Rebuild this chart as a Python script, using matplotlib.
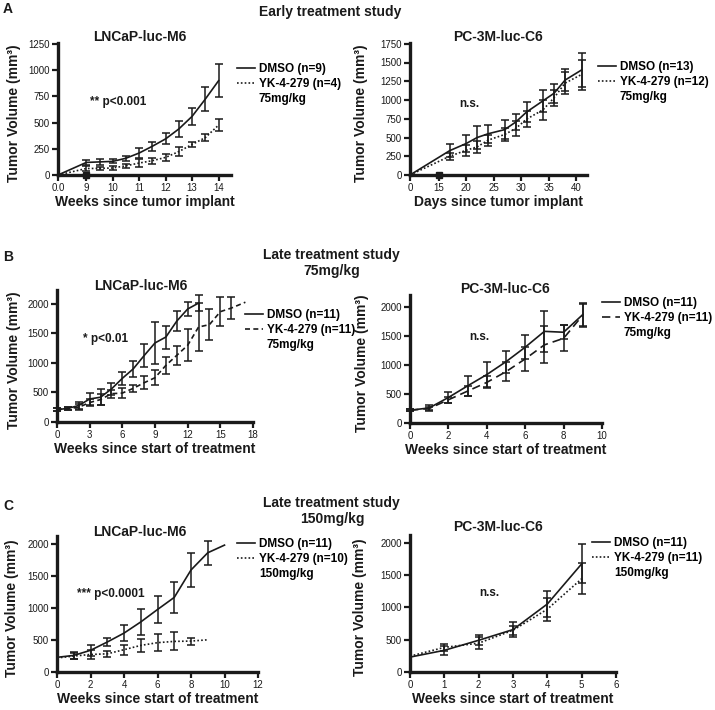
import numpy as np
import matplotlib
matplotlib.use("Agg")
import matplotlib.pyplot as plt
from matplotlib.lines import Line2D

plt.rcParams['font.family'] = ['Liberation Sans', 'DejaVu Sans']

nan = np.nan

# --- A: early treatment, LNCaP-luc-M6 (weeks since implant) ---
a1_weeks = [0, 9, 9.5, 10, 10.5, 11, 11.5, 12, 12.5, 13, 13.5, 14]
a1_dmso = [0, 120, 125, 130, 160, 210, 275, 345, 440, 560, 725, 900]
a1_dmso_err = [nan, 25, 28, 20, 22, 43, 44, 52, 80, 84, 115, 155]
a1_yk = [0, 62, 63, 67, 88, 114, 137, 168, 224, 292, 357, 476]
a1_yk_err = [nan, 20, 15, 19, 17, 35, 28, 32, 40, 25, 30, 57]

# --- A: early treatment, PC-3M-luc-C6 (days since implant) ---
a2_days = [0, 17, 20, 22, 24, 27, 29, 31, 34, 36, 38, 41]
a2_dmso = [0, 325, 420, 500, 550, 605, 705, 840, 990, 1090, 1265, 1400]
a2_dmso_err = [nan, 90, 115, 150, 120, 130, 105, 130, 150, 130, 145, 230]
a2_yk = [0, 250, 330, 375, 465, 540, 620, 745, 870, 1030, 1225, 1340]
a2_yk_err = [nan, 45, 70, 80, 75, 90, 100, 110, 135, 110, 145, 200]

# --- B: late treatment 75mg/kg ---
b1_dmso_weeks = list(range(0, 14))
b1_dmso = [210, 230, 280, 390, 420, 560, 740, 900, 1125, 1340, 1440, 1710, 1915, 2015]
b1_dmso_err = [20, 25, 60, 105, 140, 105, 105, 140, 190, 350, 195, 170, 125, 140]
b1_yk_weeks = list(range(0, 17)) + [17.3]
b1_yk = [210, 225, 250, 330, 380, 480, 490, 570, 665, 750, 960, 1130, 1300, 1610,
         1650, 1870, 1930, 2030]
b1_yk_err = [20, 25, 50, 60, 100, 70, 90, 60, 110, 130, 140, 160, 270, 400,
             260, 250, 190, nan]

b2_weeks = list(range(0, 10))
b2_dmso = [220, 260, 440, 640, 835, 1057, 1307, 1580, 1565, 1870]
b2_dmso_err = [20, 45, 90, 175, 210, 190, 205, 350, 120, 200]
b2_yk = [220, 250, 400, 550, 700, 885, 1105, 1347, 1460, 1860]
b2_yk_err = [20, 30, 50, 85, 105, 160, 210, 320, 225, 200]

# --- C: late treatment 150mg/kg ---
c1_dmso_weeks = list(range(0, 11))
c1_dmso = [230, 260, 340, 470, 610, 785, 980, 1170, 1600, 1870, 1990]
c1_dmso_err = [nan, 50, 85, 60, 125, 200, 210, 240, 260, 190, nan]
c1_yk_weeks = list(range(0, 10))
c1_yk = [220, 250, 275, 285, 350, 417, 460, 480, 485, 505]
c1_yk_err = [nan, 50, 75, 50, 80, 100, 135, 140, 55, nan]

c2_weeks = list(range(0, 6))
c2_dmso = [230, 335, 490, 655, 1050, 1670]
c2_dmso_err = [nan, 70, 80, 110, 200, 300]
c2_yk = [245, 380, 445, 645, 970, 1440]
c2_yk_err = [nan, 55, 90, 70, 180, 240]

W, H = 715, 710
fig = plt.figure(figsize=(W / 100, H / 100), dpi=100)
INK = '#1a1a1a'


def px_axes(left, right, top, bottom):
    return fig.add_axes([left / W, 1 - bottom / H, (right - left) / W, (bottom - top) / H])


def ftext(x, y, s, size=10, ha='left', va='center'):
    fig.text(x / W, 1 - y / H, s, fontsize=size, fontweight='bold', ha=ha, va=va, color=INK)


def style(ax, title, title_xy, xlabel, xlim, ylim, xticks, yticks, ylab_x, xticklabels=None):
    ax.set_xlim(*xlim)
    ax.set_ylim(*ylim)
    ax.set_xticks(xticks)
    if xticklabels is not None:
        ax.set_xticklabels(xticklabels)
    ax.set_yticks(yticks)
    for s in ['top', 'right']:
        ax.spines[s].set_visible(False)
    for s in ['left', 'bottom']:
        ax.spines[s].set_linewidth(2.4)
        ax.spines[s].set_color(INK)
    ax.tick_params(direction='out', length=4, width=1.6, labelsize=7, pad=2, colors=INK)
    ax.set_xlabel(xlabel, fontsize=10, fontweight='bold', color=INK)
    ax.set_ylabel('Tumor Volume (mm³)', fontsize=10, fontweight='bold', color=INK)
    bb = ax.get_position()
    ax.yaxis.set_label_coords(ylab_x, 0.47)
    ax.xaxis.set_label_coords(0.5, -20 / (bb.height * H))
    ftext(title_xy[0], title_xy[1], title, size=10, ha='center')


def series(ax, x, y, err, ls):
    ax.plot(x, y, color=INK, lw=1.2, linestyle=ls, clip_on=False, zorder=3)
    ax.errorbar(x, y, yerr=err, fmt='none', ecolor=INK, elinewidth=1.1,
                capsize=3, capthick=1.1, clip_on=False, zorder=3)


def legend(ax, x, y, n1, n2, dose, ls):
    h1 = Line2D([], [], color=INK, lw=1.2, linestyle='-')
    h2 = Line2D([], [], color=INK, lw=1.2, linestyle=ls)
    h3 = Line2D([], [], linestyle='none')
    ax.legend([h1, h2, h3], ['DMSO (n=%d)' % n1, 'YK-4-279 (n=%d)' % n2, dose],
              loc='upper left', bbox_to_anchor=(x / W, 1 - y / H),
              bbox_transform=fig.transFigure, frameon=False, borderpad=0,
              borderaxespad=0, handlelength=1.5, handletextpad=0.35,
              labelspacing=0.25, prop={'size': 8.5, 'weight': 'bold'})


def broken(x0_gap, start):
    # compress the interval [0, start) into a short stub, as in the original axis
    def fwd(x):
        x = np.asarray(x, dtype=float)
        return np.where(x < start, start - (start - x) * x0_gap / start, x)

    def inv(y):
        y = np.asarray(y, dtype=float)
        return np.where(y < start, start - (start - y) * start / x0_gap, y)
    return fwd, inv


DOT = (0, (1, 1.3))
SHORT = (0, (3, 2))
LONG = (0, (5, 3))

# ---------------- A ----------------
ftext(8, 9, 'A', size=10, ha='center')
ftext(330, 12, 'Early treatment study', size=10, ha='center')

ax = px_axes(58, 231, 43, 175)
ax.set_xscale('function', functions=broken(1.07, 9))
series(ax, a1_weeks, a1_dmso, a1_dmso_err, '-')
series(ax, a1_weeks, a1_yk, a1_yk_err, DOT)
ax.plot([9], [0], marker='s', ms=4.5, color=INK, clip_on=False, zorder=5)
style(ax, 'LNCaP-luc-M6', (140, 37), 'Weeks since tumor implant', (0, 14.47), (0, 1260),
      [0, 9, 10, 11, 12, 13, 14], [0, 250, 500, 750, 1000, 1250], -0.214,
      ['0.0', '9', '10', '11', '12', '13', '14'])
legend(ax, 237, 63, 9, 4, '75mg/kg', DOT)
ftext(90, 102, '** p<0.001', size=8.5)

ax = px_axes(410, 587, 43, 175)
ax.set_xscale('function', functions=broken(5.24, 15))
series(ax, a2_days, a2_dmso, a2_dmso_err, '-')
series(ax, a2_days, a2_yk, a2_yk_err, DOT)
ax.plot([15], [0], marker='s', ms=4.5, color=INK, clip_on=False, zorder=5)
style(ax, 'PC-3M-luc-C6', (498, 37), 'Days since tumor implant', (0, 42), (0, 1760),
      [0, 15, 20, 25, 30, 35, 40], [0, 250, 500, 750, 1000, 1250, 1500, 1750], -0.237)
legend(ax, 598, 61, 13, 12, '75mg/kg', DOT)
ftext(459, 104, 'n.s.', size=8.5)

# ---------------- B ----------------
ftext(8, 257, 'B', size=10, ha='center')
ftext(331, 255, 'Late treatment study', size=10, ha='center')
ftext(332, 271, '75mg/kg', size=10, ha='center')

ax = px_axes(57, 253, 290, 422)
series(ax, b1_dmso_weeks, b1_dmso, b1_dmso_err, '-')
series(ax, b1_yk_weeks, b1_yk, b1_yk_err, SHORT)
style(ax, 'LNCaP-luc-M6', (141, 286), 'Weeks since start of treatment', (0, 18), (0, 2237),
      [0, 3, 6, 9, 12, 15, 18], [0, 500, 1000, 1500, 2000], -0.184)
legend(ax, 245, 309, 11, 11, '75mg/kg', SHORT)
ftext(83, 339, '* p<0.01', size=8.5)

ax = px_axes(410, 602, 295, 423)
series(ax, b2_weeks, b2_dmso, b2_dmso_err, '-')
series(ax, b2_weeks, b2_yk, b2_yk_err, LONG)
style(ax, 'PC-3M-luc-C6', (505, 289), 'Weeks since start of treatment', (0, 10), (0, 2207),
      [0, 2, 4, 6, 8, 10], [0, 500, 1000, 1500, 2000], -0.213)
legend(ax, 602, 297, 11, 11, '75mg/kg', LONG)
ftext(469, 337, 'n.s.', size=8.5)

# ---------------- C ----------------
ftext(8, 506, 'C', size=10, ha='center')
ftext(331, 503, 'Late treatment study', size=10, ha='center')
ftext(332, 519, '150mg/kg', size=10, ha='center')

ax = px_axes(57, 258, 536, 672)
series(ax, c1_dmso_weeks, c1_dmso, c1_dmso_err, '-')
series(ax, c1_yk_weeks, c1_yk, c1_yk_err, DOT)
style(ax, 'LNCaP-luc-M6', (140, 532), 'Weeks since start of treatment', (0, 12), (0, 2133),
      [0, 2, 4, 6, 8, 10, 12], [0, 500, 1000, 1500, 2000], -0.19)
legend(ax, 237, 538, 11, 10, '150mg/kg', DOT)
ftext(77, 594, '*** p<0.0001', size=8.5)

ax = px_axes(410, 616, 535, 672)
series(ax, c2_weeks, c2_dmso, c2_dmso_err, '-')
series(ax, c2_weeks, c2_yk, c2_yk_err, DOT)
style(ax, 'PC-3M-luc-C6', (498, 527), 'Weeks since start of treatment', (0, 6), (0, 2116),
      [0, 1, 2, 3, 4, 5, 6], [0, 500, 1000, 1500, 2000], -0.209)
legend(ax, 592, 537, 11, 11, '150mg/kg', DOT)
ftext(479, 593, 'n.s.', size=8.5)

fig.savefig('out.png', dpi=100, facecolor='white')
